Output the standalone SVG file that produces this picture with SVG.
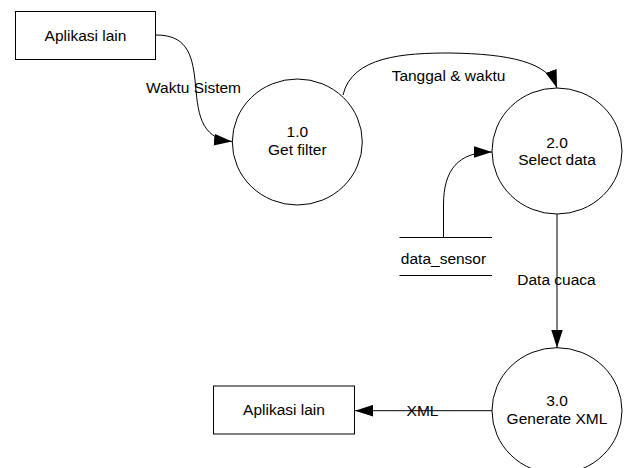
<svg xmlns="http://www.w3.org/2000/svg" width="632" height="468" viewBox="0 0 632 468">
<style>
.box{fill:#fff;stroke:#000;stroke-width:1}
.proc{fill:#fff;stroke:#000;stroke-width:1}
.edge{fill:none;stroke:#000;stroke-width:1}
text{font-family:"Liberation Sans",Arial,sans-serif;font-size:15.5px;fill:#000}
.c{text-anchor:middle}
</style>
<defs>
<marker id="arr" markerUnits="userSpaceOnUse" markerWidth="18" markerHeight="12" viewBox="0 0 17 11" refX="17" refY="5.5" orient="auto">
<path d="M0,0 L17,5.5 L0,11 Z" fill="#000"/>
</marker>
</defs>
<rect width="632" height="468" fill="#fff"/>
<g id="connectors">
<path class="edge" d="M156,35 C185,35 192,52 195,80 C198,112 199,138 232,141.5" marker-end="url(#arr)"/>
<path class="edge" d="M343,95 C352,56 405,53 450,53 C510,54 548,62 557,88" marker-end="url(#arr)"/>
<path class="edge" d="M443.5,237 L443.5,205 C443.5,170 458,152 492,152" marker-end="url(#arr)"/>
<path class="edge" d="M557,214 L557,347.7" marker-end="url(#arr)"/>
<path class="edge" d="M492,410.7 L355,410.7" marker-end="url(#arr)"/>
<text x="193.5" y="93" class="c">Waktu Sistem</text>
<text x="448.5" y="81" class="c">Tanggal &amp; waktu</text>
<text x="556.5" y="285" class="c">Data cuaca</text>
<text x="422.5" y="415.5" class="c">XML</text>
</g>
<g id="ext1">
<rect class="box" x="15.5" y="11.5" width="140" height="48"/>
<text x="85.5" y="40.5" class="c">Aplikasi lain</text>
</g>
<g id="p1">
<ellipse class="proc" cx="297.3" cy="142" rx="65" ry="63"/>
<text x="297.3" y="137" class="c">1.0</text>
<text x="297.3" y="154.5" class="c">Get filter</text>
</g>
<g id="p2">
<ellipse class="proc" cx="557" cy="151" rx="65" ry="63"/>
<text x="557" y="147.5" class="c">2.0</text>
<text x="557" y="165" class="c">Select data</text>
</g>
<g id="store">
<line class="edge" x1="399.5" y1="237.5" x2="492" y2="237.5"/>
<line class="edge" x1="399.5" y1="275.5" x2="492" y2="275.5"/>
<text x="443.5" y="263.5" class="c">data_sensor</text>
</g>
<g id="p3">
<ellipse class="proc" cx="557" cy="410.7" rx="65" ry="63"/>
<text x="557" y="406" class="c">3.0</text>
<text x="557" y="424" class="c">Generate XML</text>
</g>
<g id="ext2">
<rect class="box" x="213.5" y="386" width="141" height="48"/>
<text x="284" y="415" class="c">Aplikasi lain</text>
</g>
</svg>
